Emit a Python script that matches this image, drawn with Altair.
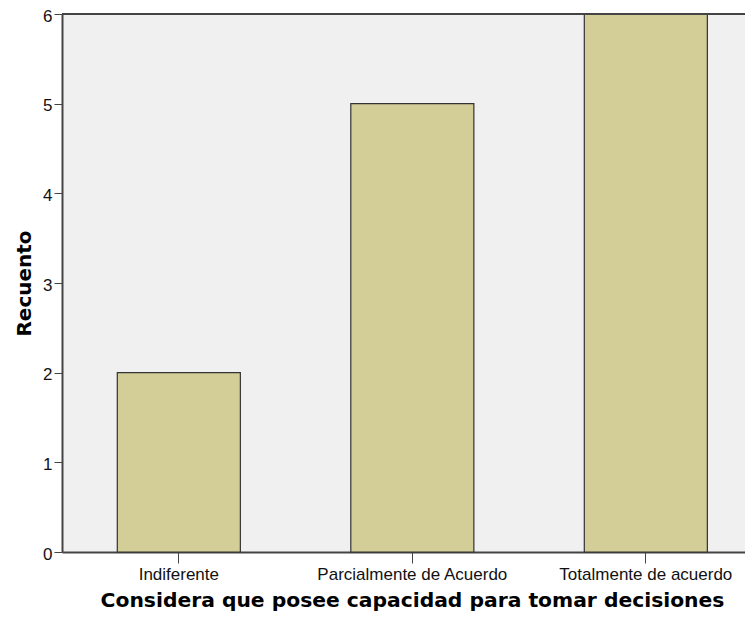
import altair as alt
import pandas as pd

categories = ["Indiferente", "Parcialmente de Acuerdo", "Totalmente de acuerdo"]
counts = [2, 5, 6]

df = pd.DataFrame({"cat": categories, "n": counts})
top_df = pd.DataFrame({"k": [0]})

PLOT_W = 683
PLOT_H = 538

bars = alt.Chart(df).mark_bar(
    color="#d3ce97", stroke="#333333", strokeWidth=1.2
).encode(
    x=alt.X("cat:N", sort=categories,
            scale=alt.Scale(paddingInner=0.473, paddingOuter=0.199, align=0.595),
            axis=alt.Axis(title="Considera que posee capacidad para tomar decisiones",
                          labelAngle=0, labelFont="Liberation Sans", labelFontSize=17,
                          labelColor="#111111", labelPadding=3, labelLimit=400,
                          titleFont="DejaVu Sans", titleFontSize=20.3, titleFontWeight="bold",
                          titleColor="#000000", titleX=350, titleY=54,
                          titleBaseline="alphabetic",
                          tickColor="#444444", tickSize=11, domainColor="#444444",
                          domainWidth=2)),
    y=alt.Y("n:Q", scale=alt.Scale(domain=[0, 6], nice=False),
            axis=alt.Axis(title="Recuento", values=[0, 1, 2, 3, 4, 5, 6], grid=False,
                          labelFont="Liberation Sans", labelFontSize=17,
                          labelColor="#111111", labelPadding=2, labelOffset=2,
                          titleFont="DejaVu Sans", titleFontSize=20, titleFontWeight="bold",
                          titleColor="#000000", titleX=-32, titleBaseline="alphabetic",
                          tickColor="#444444", tickSize=8, domainColor="#444444",
                          domainWidth=2)),
)

top_border = alt.Chart(top_df).mark_rule(color="#444444", strokeWidth=2).encode(
    x=alt.value(0), x2=alt.value(PLOT_W), y=alt.value(0)
)

chart = alt.layer(bars, top_border).properties(
    width=PLOT_W, height=PLOT_H,
    autosize=alt.AutoSizeParams(type="none"),
    padding={"left": 54, "top": 6, "right": 0, "bottom": 59},
).configure_view(
    fill="#f0f0f0", stroke=None
)

chart.save("out.html", embed_options={"renderer": "svg", "actions": False})
